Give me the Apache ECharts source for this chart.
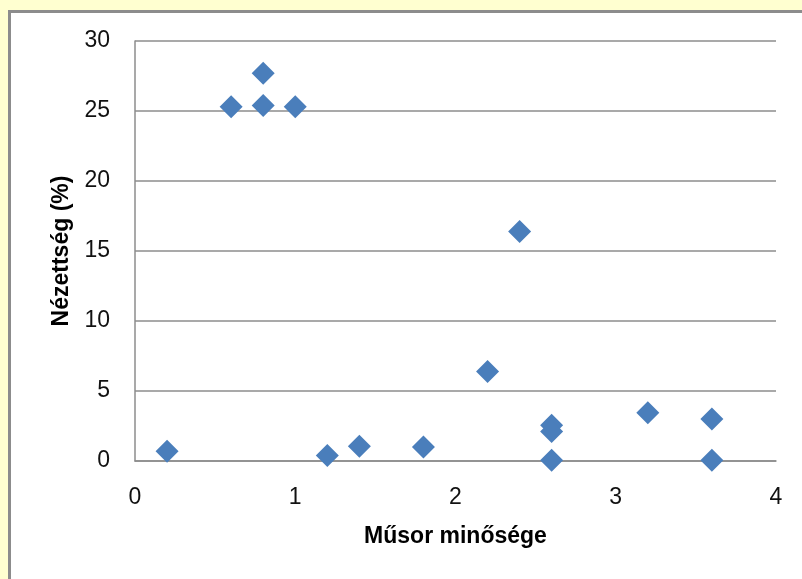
<!DOCTYPE html>
<html>
<head>
<meta charset="utf-8">
<script src="https://cdn.jsdelivr.net/npm/echarts@6/dist/echarts.min.js"></script>
<style>
html,body{margin:0;padding:0;background:#FFFFD0;}
#wrap{position:absolute;left:8px;top:10px;width:810px;height:590px;background:#fff;border:3px solid #8c8c8c;box-sizing:border-box;}
#chart{position:absolute;left:0;top:0;width:802px;height:579px;}
</style>
</head>
<body>
<div id="wrap"></div>
<div id="chart"></div>
<script>
const xTitle = 'Műsor minősége';
const yTitle = 'Nézettség (%)';
const quality = [0.2, 0.6, 0.8, 0.8, 1.0, 1.2, 1.4, 1.8, 2.2, 2.4, 2.6, 2.6, 2.6, 3.2, 3.6, 3.6];
const viewership = [0.7, 25.3, 27.7, 25.4, 25.3, 0.4, 1.05, 1.0, 6.4, 16.4, 2.55, 2.1, 0.05, 3.45, 3.0, 0.05];

const points = quality.map((q, i) => [q, viewership[i]]);
const chart = echarts.init(document.getElementById('chart'));
const font = '"Liberation Sans", Arial, sans-serif';
chart.setOption({
  animation: false,
  grid: {left: 135, right: 26, top: 41, bottom: 118},
  xAxis: {
    type: 'value', min: 0, max: 4, interval: 1,
    name: xTitle, nameLocation: 'middle', nameGap: 64,
    nameTextStyle: {fontSize: 23, fontWeight: 'bold', color: '#000', fontFamily: font},
    axisLine: {show: true, lineStyle: {color: '#8c8c8c', width: 1.5}},
    axisTick: {show: false},
    splitLine: {show: false},
    axisLabel: {fontSize: 23, color: '#111', margin: 25, fontFamily: font}
  },
  yAxis: {
    type: 'value', min: 0, max: 30, interval: 5,
    name: yTitle, nameLocation: 'middle', nameGap: 58,
    nameTextStyle: {fontSize: 23, fontWeight: 'bold', color: '#000', fontFamily: font},
    axisLine: {show: true, lineStyle: {color: '#8c8c8c', width: 1.5}},
    axisTick: {show: false},
    splitLine: {show: true, lineStyle: {color: '#8c8c8c', width: 1.5}},
    axisLabel: {fontSize: 23, color: '#111', margin: 25, fontFamily: font}
  },
  series: [{
    type: 'scatter',
    data: points,
    symbol: 'diamond',
    symbolSize: [23, 23],
    itemStyle: {color: '#4a7ebb', opacity: 1}
  }]
});
</script>
</body>
</html>
